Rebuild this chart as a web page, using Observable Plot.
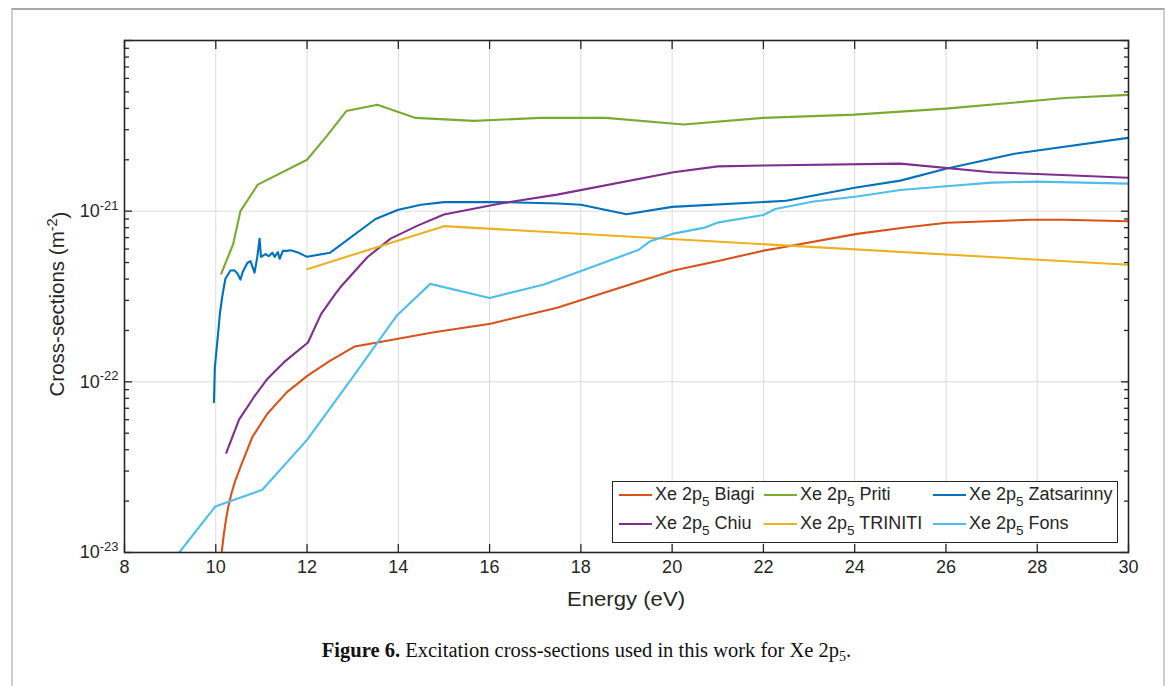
<!DOCTYPE html>
<html>
<head>
<meta charset="utf-8">
<script src="https://cdn.jsdelivr.net/npm/d3@7"></script>
<script src="https://cdn.jsdelivr.net/npm/@observablehq/plot@0.6"></script>
<style>
  body { margin: 0; background: #fff; width: 1173px; height: 686px; overflow: hidden; position: relative;
         font-family: "Liberation Sans", Arial, Helvetica, sans-serif; }
  #frame { position: absolute; left: 11px; top: 8px; width: 1154px; height: 720px;
           border: 2px solid #cdcdcd; border-top-color: #a8a8a8; border-bottom: none; box-sizing: border-box; }
  #chart { position: absolute; left: 0; top: 0; }
  #legend { position: absolute; left: 612px; top: 481px; width: 506px; height: 62px;
            border: 1.5px solid #262626; background: #fff; box-sizing: border-box; }
  .item { position: absolute; height: 22px; font-size: 18px; color: #262626; white-space: nowrap; }
  .item .swatch { position: absolute; left: 0; top: 11px; width: 33px; height: 0; border-top: 2px solid; }
  .item .name { position: absolute; left: 36px; top: 0; line-height: 22px; }
  .item sub { font-size: 13.5px; vertical-align: -6px; line-height: 0; }
  #caption { position: absolute; left: 0; top: 639px; width: 1173px; text-align: center;
             font-family: "Liberation Serif", "Times New Roman", serif; font-size: 20.5px; color: #111; }
  #caption sub { font-size: 14px; vertical-align: -4px; line-height: 0; }
</style>
</head>
<body>
<div id="frame"></div>
<div id="chart"></div>
<div id="legend"></div>
<div id="caption"><b>Figure 6.</b> Excitation cross-sections used in this work for Xe 2p<sub>5</sub>.</div>
<script>
// Energy (eV) and cross-section (m^-2) for each Xe 2p5 data set
const biagiE = [10.13, 10.18, 10.23, 10.28, 10.34, 10.42, 10.54, 10.8, 11.13, 11.56, 12.02, 12.51, 13.04, 13.54, 14.78, 16.02, 17.48, 18.94, 20.03, 21.06, 22.0, 22.37, 24.05, 25.15, 26.02, 27.85, 28.57, 30.0];
const biagiV = [1.0e-23, 1.3e-23, 1.6e-23, 1.88e-23, 2.2e-23, 2.6e-23, 3.16e-23, 4.74e-23, 6.5e-23, 8.7e-23, 1.09e-22, 1.33e-22, 1.61e-22, 1.7e-22, 1.95e-22, 2.19e-22, 2.72e-22, 3.62e-22, 4.49e-22, 5.14e-22, 5.87e-22, 6.1e-22, 7.36e-22, 8.05e-22, 8.55e-22, 8.9e-22, 8.9e-22, 8.73e-22];

const pritiE = [10.12, 10.38, 10.54, 10.92, 12.0, 12.44, 12.86, 13.54, 14.38, 15.65, 17.1, 18.55, 20.25, 22.0, 24.0, 26.0, 28.0, 28.6, 30.0];
const pritiV = [4.3e-22, 6.4e-22, 1.0e-21, 1.43e-21, 2.0e-21, 2.77e-21, 3.86e-21, 4.2e-21, 3.52e-21, 3.38e-21, 3.52e-21, 3.52e-21, 3.22e-21, 3.52e-21, 3.68e-21, 3.99e-21, 4.45e-21, 4.6e-21, 4.8e-21];

const zatsE = [9.96, 9.98, 10.05, 10.09, 10.14, 10.21, 10.32, 10.41, 10.48, 10.54, 10.59, 10.69, 10.76, 10.85, 10.91, 10.96, 10.99, 11.09, 11.16, 11.24, 11.29, 11.36, 11.4, 11.47, 11.56, 11.64, 11.82, 12.0, 12.5, 13.5, 14.0, 14.5, 15.0, 16.2, 17.5, 18.0, 19.0, 20.0, 22.5, 24.0, 25.0, 26.0, 27.5, 30.0];
const zatsV = [7.6e-23, 1.22e-22, 1.91e-22, 2.5e-22, 3.13e-22, 4.02e-22, 4.49e-22, 4.5e-22, 4.3e-22, 3.97e-22, 4.4e-22, 4.97e-22, 5.1e-22, 4.36e-22, 5.4e-22, 6.9e-22, 5.4e-22, 5.6e-22, 5.45e-22, 5.7e-22, 5.4e-22, 5.75e-22, 5.26e-22, 5.85e-22, 5.85e-22, 5.9e-22, 5.7e-22, 5.4e-22, 5.7e-22, 9.0e-22, 1.02e-21, 1.09e-21, 1.13e-21, 1.13e-21, 1.11e-21, 1.09e-21, 9.6e-22, 1.06e-21, 1.15e-21, 1.37e-21, 1.51e-21, 1.77e-21, 2.17e-21, 2.69e-21];

const chiuE = [10.23, 10.51, 10.83, 11.13, 11.49, 12.02, 12.31, 12.62, 12.73, 13.32, 13.83, 14.41, 15.0, 16.24, 17.48, 20.03, 21.0, 22.0, 25.0, 27.0, 28.0, 30.0];
const chiuV = [3.84e-23, 6.0e-23, 8.1e-23, 1.04e-22, 1.3e-22, 1.7e-22, 2.5e-22, 3.28e-22, 3.58e-22, 5.37e-22, 6.9e-22, 8.2e-22, 9.55e-22, 1.11e-21, 1.25e-21, 1.69e-21, 1.83e-21, 1.85e-21, 1.9e-21, 1.69e-21, 1.65e-21, 1.57e-21];

const trinitiE = [12.0, 15.0, 30.0];
const trinitiV = [4.57e-22, 8.17e-22, 4.85e-22];

const fonsE = [9.2, 9.99, 11.02, 12.0, 12.95, 13.97, 14.7, 16.0, 17.19, 17.99, 19.27, 19.52, 20.0, 20.69, 21.02, 22.0, 22.26, 23.1, 24.05, 25.0, 26.0, 27.0, 28.0, 30.0];
const fonsV = [1.0e-23, 1.86e-23, 2.33e-23, 4.57e-23, 1.02e-22, 2.45e-22, 3.75e-22, 3.1e-22, 3.72e-22, 4.45e-22, 5.94e-22, 6.67e-22, 7.36e-22, 7.98e-22, 8.6e-22, 9.5e-22, 1.03e-21, 1.14e-21, 1.22e-21, 1.33e-21, 1.4e-21, 1.47e-21, 1.49e-21, 1.45e-21];

// Series names, in legend order (row by row), and line colours
const seriesNames = ["Biagi", "Priti", "Zatsarinny", "Chiu", "TRINITI", "Fons"];
const seriesE = [biagiE, pritiE, zatsE, chiuE, trinitiE, fonsE];
const seriesV = [biagiV, pritiV, zatsV, chiuV, trinitiV, fonsV];
const seriesColors = ["#D95319", "#77AC30", "#0072BD", "#7E2F8E", "#EDB120", "#4DBEEE"];

// Axis ticks
const xTicks = [8, 10, 12, 14, 16, 18, 20, 22, 24, 26, 28, 30];
const yMajor = [1e-23, 1e-22, 1e-21, 1e-20];
const yLabeled = [1e-23, 1e-22, 1e-21];
const yMinor = [];
for (const d of [-23, -22, -21]) for (let m = 2; m <= 9; m++) yMinor.push(m * Math.pow(10, d));

const axisInk = "#262626";
const gridInk = "#dcdcdc";

const lines = seriesNames.map((name, i) =>
  Plot.line(seriesV[i], {x: seriesE[i], y: d => d, stroke: seriesColors[i], strokeWidth: 2.1, clip: true})
);

const chart = Plot.plot({
  width: 1173,
  height: 620,
  marginLeft: 124,
  marginRight: 45,
  marginTop: 40,
  marginBottom: 68,
  style: {fontFamily: "'Liberation Sans', Arial, Helvetica, sans-serif", fontSize: "18px", color: axisInk, background: "transparent"},
  x: {domain: [8, 30]},
  y: {type: "log", domain: [1e-23, 1e-20]},
  marks: [
    Plot.gridX(xTicks, {stroke: gridInk, strokeOpacity: 1, strokeWidth: 1}),
    Plot.gridY(yMajor, {stroke: gridInk, strokeOpacity: 1, strokeWidth: 1}),
    ...lines,
    Plot.frame({stroke: axisInk, strokeWidth: 1.6}),
    // inward ticks on all four sides
    Plot.axisX(xTicks, {anchor: "bottom", tickSize: -8, fill: "none", label: null, stroke: axisInk, strokeWidth: 1.3}),
    Plot.axisX(xTicks, {anchor: "top", tickSize: -8, fill: "none", label: null, stroke: axisInk, strokeWidth: 1.3}),
    Plot.axisY(yMajor, {anchor: "left", tickSize: -8, fill: "none", label: null, stroke: axisInk, strokeWidth: 1.3}),
    Plot.axisY(yMinor, {anchor: "left", tickSize: -5, fill: "none", label: null, stroke: axisInk, strokeWidth: 1.3}),
    Plot.axisY(yMajor, {anchor: "right", tickSize: -8, fill: "none", label: null, stroke: axisInk, strokeWidth: 1.3}),
    Plot.axisY(yMinor, {anchor: "right", tickSize: -5, fill: "none", label: null, stroke: axisInk, strokeWidth: 1.3}),
    // tick labels
    Plot.axisX(xTicks, {anchor: "bottom", tickSize: 0, tickPadding: 8, label: null, fontSize: 18, fill: axisInk, tickFormat: d => String(d)}),
    Plot.axisY(yLabeled, {anchor: "left", tickSize: 0, tickPadding: 6, label: null, fontSize: 18, fill: axisInk,
                          tickFormat: d => "10^" + Math.round(Math.log10(d))})
  ]
});

document.getElementById("chart").appendChild(chart);

// power-of-ten labels with superscript exponents
const svg = d3.select(chart);
svg.selectAll('g[aria-label="y-axis tick label"] text').each(function () {
  const t = d3.select(this);
  const [base, exp] = t.text().split("^");
  if (exp === undefined) return;
  t.text(base);
  t.append("tspan").attr("dy", "-0.55em").attr("font-size", "13px").text(exp);
});

// axis titles
svg.append("text")
  .attr("x", 626).attr("y", 606)
  .attr("text-anchor", "middle")
  .attr("font-size", 21).attr("fill", axisInk)
  .attr("textLength", 118).attr("lengthAdjust", "spacingAndGlyphs")
  .text("Energy (eV)");

const yTitle = svg.append("text")
  .attr("transform", "translate(64,304) rotate(-90)")
  .attr("text-anchor", "middle")
  .attr("font-size", 20.5).attr("fill", axisInk);
yTitle.append("tspan").text("Cross-sections (m");
yTitle.append("tspan").attr("dy", "-0.5em").attr("font-size", 14.5).text("-2");
yTitle.append("tspan").attr("dy", "0.5em").text(")");

// legend: two rows of three entries
const legend = document.getElementById("legend");
const colLeft = [6, 151, 320];
const rowTop = [1, 30];
seriesNames.forEach((name, i) => {
  const item = document.createElement("div");
  item.className = "item";
  item.style.left = colLeft[i % 3] + "px";
  item.style.top = rowTop[Math.floor(i / 3)] + "px";
  item.innerHTML = `<div class="swatch" style="border-top-color:${seriesColors[i]}"></div>` +
                   `<span class="name">Xe 2p<sub>5</sub> ${name}</span>`;
  legend.appendChild(item);
});
</script>
</body>
</html>
